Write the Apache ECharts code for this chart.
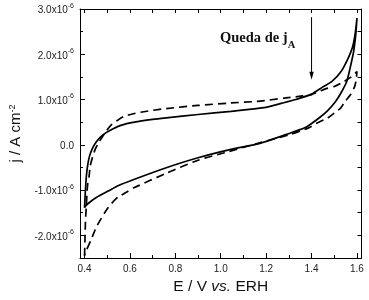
<!DOCTYPE html>
<html>
<head>
<meta charset="utf-8">
<script src="https://cdn.jsdelivr.net/npm/echarts@6/dist/echarts.min.js"></script>
<style>
html,body{margin:0;padding:0;background:#fff;}
#c{width:369px;height:300px;}
</style>
</head>
<body>
<div id="c"></div>
<script>
// Potentials (V vs. ERH) and current densities (units of 10^-6 A cm^-2)
const solidE = [0.400,0.402,0.404,0.408,0.414,0.422,0.435,0.450,0.470,0.495,0.520,0.560,0.620,0.700,0.760,0.900,1.045,1.190,1.270,1.330,1.400,1.450,1.490,1.530,1.560,1.580,1.592,1.600,
                1.595,1.585,1.570,1.555,1.530,1.505,1.470,1.440,1.400,1.370,1.290,1.190,1.145,1.045,0.900,0.760,0.620,0.550,0.505,0.450,0.420,0.405,0.400];
const solidJ = [-1.39,-1.20,-1.00,-0.70,-0.45,-0.25,-0.08,0.05,0.17,0.27,0.34,0.43,0.50,0.56,0.595,0.67,0.74,0.82,0.92,1.00,1.12,1.28,1.40,1.62,1.90,2.15,2.45,2.80,
                2.45,2.05,1.70,1.40,1.15,0.95,0.75,0.62,0.47,0.375,0.23,0.06,0.00,-0.10,-0.285,-0.505,-0.76,-0.90,-1.02,-1.17,-1.28,-1.35,-1.39];
const dashedE = [0.400,0.402,0.404,0.408,0.413,0.420,0.425,0.435,0.447,0.460,0.476,0.495,0.520,0.548,0.576,0.647,0.760,0.900,1.045,1.160,1.287,1.360,1.400,1.458,1.500,1.543,1.575,1.600,
                 1.597,1.590,1.572,1.543,1.529,1.500,1.472,1.458,1.420,1.387,1.300,1.160,1.017,0.900,0.760,0.620,0.570,0.548,0.505,0.455,0.427,0.405,0.400];
const dashedJ = [-2.45,-2.10,-1.71,-1.35,-0.91,-0.70,-0.47,-0.28,-0.10,0.03,0.155,0.30,0.45,0.55,0.63,0.72,0.80,0.87,0.925,0.96,1.035,1.08,1.11,1.23,1.29,1.40,1.50,1.62,
                 1.45,1.29,1.11,0.925,0.815,0.70,0.595,0.56,0.47,0.375,0.22,0.03,-0.175,-0.34,-0.63,-0.945,-1.09,-1.15,-1.38,-1.79,-2.12,-2.37,-2.45];

const xMajorTicks = [0.4,0.6,0.8,1.0,1.2,1.4,1.6];
const xMinorTicks = [0.5,0.7,0.9,1.1,1.3,1.5];
const xTopTicks = [0.4,0.5,0.6,0.7,0.8,0.9,1.0,1.1,1.2,1.3,1.4,1.5,1.6];
const yMajorTicks = [-2,-1,0,1,2,3];
const yMinorTicks = [-2.5,-1.5,-0.5,0.5,1.5,2.5];
const yRightTicks = [-2,-1.5,-1,-0.5,0,0.5,1,1.5,2,2.5];

const arrowE = 1.4, arrowJTop = 2.82, arrowJTip = 1.44;

const zip = (a,b) => a.map((v,i)=>[v,b[i]]);
const FONT = 'Liberation Sans, Arial, sans-serif';
const chart = echarts.init(document.getElementById('c'), null, {renderer:'canvas'});

const lineAx = {onZero:false,lineStyle:{color:'#000',width:1}};
const noLine = {show:false,onZero:false};
chart.setOption({
  animation:false,
  backgroundColor:'#fff',
  grid:{left:71,right:7.5,top:9,bottom:41,containLabel:false},
  xAxis:[
    {type:'value',min:0.38,max:1.62,position:'bottom',
     axisLine:lineAx,splitLine:{show:false},
     axisTick:{inside:true,length:5,lineStyle:{color:'#000'},customValues:xMajorTicks},
     axisLabel:{customValues:xMajorTicks,margin:6,color:'#222',fontSize:10,fontFamily:FONT,formatter:v=>v.toFixed(1)},
     name:'E / V {i|vs.} ERH',nameLocation:'middle',nameGap:21,
     nameTextStyle:{fontSize:15.5,color:'#111',fontFamily:FONT,rich:{i:{fontSize:15.5,fontStyle:'italic',fontFamily:FONT,color:'#111'}}}},
    {type:'value',min:0.38,max:1.62,position:'bottom',
     axisLine:noLine,splitLine:{show:false},axisLabel:{show:false},
     axisTick:{inside:true,length:3,lineStyle:{color:'#000'},customValues:xMinorTicks}},
    {type:'value',min:0.38,max:1.62,position:'top',
     axisLine:lineAx,splitLine:{show:false},axisLabel:{show:false},
     axisTick:{inside:true,length:4,lineStyle:{color:'#000'},customValues:xTopTicks}}
  ],
  yAxis:[
    {type:'value',min:-2.5,max:3.0,position:'left',
     axisLine:lineAx,splitLine:{show:false},
     axisTick:{inside:true,length:5,lineStyle:{color:'#000'},customValues:yMajorTicks},
     axisLabel:{customValues:yMajorTicks,margin:6,color:'#222',fontFamily:FONT,
       formatter:v=> v===0 ? '{b|0.0}' : '{b|'+v.toFixed(1)+'x10}{s|-6}',
       rich:{b:{fontSize:10,fontFamily:FONT,color:'#222',verticalAlign:'bottom',lineHeight:13},
             s:{fontSize:7,fontFamily:FONT,color:'#222',verticalAlign:'top',lineHeight:13}}},
     name:'j / A cm{s|-2}',nameLocation:'middle',nameGap:52,nameRotate:90,
     nameTextStyle:{fontSize:15,color:'#111',fontFamily:FONT,
       rich:{s:{fontSize:9,fontFamily:FONT,color:'#111',verticalAlign:'top',lineHeight:16}}}},
    {type:'value',min:-2.5,max:3.0,position:'left',
     axisLine:noLine,splitLine:{show:false},axisLabel:{show:false},
     axisTick:{inside:true,length:3,lineStyle:{color:'#000'},customValues:yMinorTicks}},
    {type:'value',min:-2.5,max:3.0,position:'right',
     axisLine:lineAx,splitLine:{show:false},axisLabel:{show:false},
     axisTick:{inside:true,length:4,lineStyle:{color:'#000'},customValues:yRightTicks}}
  ],
  series:[
    {type:'line',xAxisIndex:0,yAxisIndex:0,data:zip(solidE,solidJ),showSymbol:false,smooth:0.25,
     lineStyle:{color:'#000',width:1.7},z:3},
    {type:'line',xAxisIndex:0,yAxisIndex:0,data:zip(dashedE,dashedJ),showSymbol:false,smooth:0.25,
     lineStyle:{color:'#000',width:1.7,type:[8,5]},z:3}
  ]
});

const p1 = chart.convertToPixel({xAxisIndex:0,yAxisIndex:0},[arrowE,arrowJTop]);
const p2 = chart.convertToPixel({xAxisIndex:0,yAxisIndex:0},[arrowE,arrowJTip]);
chart.setOption({
  graphic:[
    {type:'line',shape:{x1:p1[0],y1:p1[1],x2:p2[0],y2:p2[1]-6},style:{stroke:'#000',lineWidth:1}},
    {type:'polygon',shape:{points:[[p2[0],p2[1]],[p2[0]-2.2,p2[1]-8],[p2[0]+2.2,p2[1]-8]]},style:{fill:'#000'}},
    {type:'text',left:220,top:31,
     style:{text:'{a|Queda de j}{b|A}',
       rich:{a:{fontSize:14.5,fontWeight:'bold',fontFamily:'Liberation Serif, Times New Roman, serif',fill:'#111',verticalAlign:'top',lineHeight:20},
             b:{fontSize:10.5,fontWeight:'bold',fontFamily:'Liberation Serif, Times New Roman, serif',fill:'#111',verticalAlign:'bottom',lineHeight:20}}}}
  ]
});
</script>
</body>
</html>
